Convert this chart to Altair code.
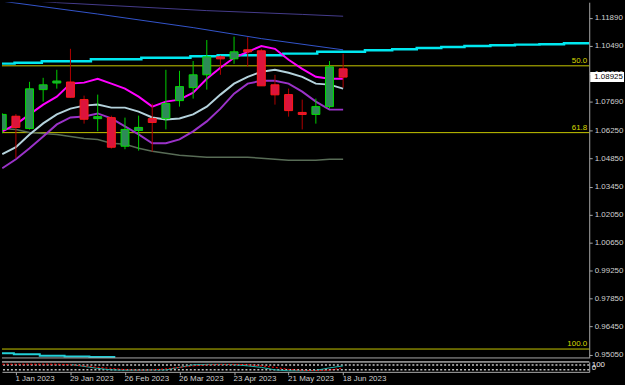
import json
import altair as alt
import pandas as pd

# ---------------- data ----------------
week = list(range(26))  # 0 = 25 Dec 2022 ... 25 = 18 Jun 2023
opens = [1.0631, 1.0697, 1.0636, 1.0830, 1.0863, 1.0868, 1.0780, 1.0685, 1.0690, 1.0547,
         1.0626, 1.0685, 1.0685, 1.0775, 1.0840, 1.0904, 1.0994, 1.0984, 1.1029, 1.1024,
         1.0854, 1.0805, 1.0716, 1.0706, 1.0745, 1.0934]
highs = [1.0712, 1.0708, 1.0869, 1.0889, 1.0929, 1.1034, 1.0800, 1.0805, 1.0700, 1.0690,
         1.0700, 1.0760, 1.0929, 1.0924, 1.0973, 1.1078, 1.1000, 1.1095, 1.1092, 1.1034,
         1.0904, 1.0835, 1.0780, 1.0785, 1.0973, 1.1009]
lows = [1.0612, 1.0487, 1.0630, 1.0770, 1.0835, 1.0790, 1.0660, 1.0622, 1.0535, 1.0532,
        1.0525, 1.0520, 1.0631, 1.0745, 1.0785, 1.0830, 1.0904, 1.0959, 1.0944, 1.0849,
        1.0755, 1.0695, 1.0631, 1.0660, 1.0735, 1.0840]
closes = [1.0706, 1.0641, 1.0834, 1.0854, 1.0873, 1.0792, 1.0682, 1.0695, 1.0542, 1.0631,
          1.0641, 1.0666, 1.0760, 1.0845, 1.0904, 1.0994, 1.0984, 1.1019, 1.1019, 1.0849,
          1.0804, 1.0725, 1.0706, 1.0745, 1.0944, 1.08925]

magenta = [1.0621, 1.0656, 1.0706, 1.0755, 1.0795, 1.0860, 1.0865, 1.0884, 1.0860, 1.0835,
           1.0795, 1.0745, 1.0770, 1.0780, 1.0815, 1.0884, 1.0939, 1.0989, 1.1019, 1.1048,
           1.1034, 1.0979, 1.0934, 1.0894, 1.0884, 1.0884]
lightblue = [1.0507, 1.0542, 1.0606, 1.0661, 1.0706, 1.0735, 1.0750, 1.0755, 1.0740, 1.0740,
             1.0720, 1.0691, 1.0681, 1.0686, 1.0706, 1.0745, 1.0805, 1.0860, 1.0894, 1.0919,
             1.0929, 1.0914, 1.0894, 1.0860, 1.0855, 1.0835]
purple = [1.0437, 1.0482, 1.0537, 1.0596, 1.0656, 1.0691, 1.0696, 1.0711, 1.0686, 1.0646,
          1.0606, 1.0562, 1.0562, 1.0581, 1.0621, 1.0671, 1.0735, 1.0810, 1.0860, 1.0874,
          1.0874, 1.0860, 1.0820, 1.0770, 1.0730, 1.0730]
dkgreen = [1.0636, 1.0631, 1.0616, 1.0611, 1.0606, 1.0596, 1.0586, 1.0581, 1.0562, 1.0557,
           1.0537, 1.0522, 1.0512, 1.0502, 1.0497, 1.0492, 1.0492, 1.0492, 1.0492, 1.0487,
           1.0482, 1.0477, 1.0477, 1.0477, 1.0482, 1.0482]

cyan_x = [-0.02, 0.9, 2.9, 6.5, 10.2, 13.8, 15.8, 20.6, 23.1, 26.6, 28.6, 30.4, 32.2,
          33.9, 35.8, 37.6, 39.4, 41.2, 43.05]
cyan_p = [1.0960, 1.0964, 1.0972, 1.0982, 1.0989, 1.0997, 1.1002, 1.1010, 1.1019, 1.1027,
          1.1032, 1.1038, 1.1043, 1.1048, 1.1052, 1.1055, 1.1057, 1.1062, 1.1062]

blue_x = [0, 7, 14, 19, 25]
blue_p = [1.1272, 1.1208, 1.1140, 1.1085, 1.1029]
slate_x = [0, 4, 15, 22, 25]
slate_p = [1.1285, 1.1265, 1.1225, 1.1206, 1.1197]

lowcyan_x = [-0.02, 0.85, 2.75, 4.57, 6.39, 8.29]
lowcyan_p = [0.95118, 0.95068, 0.94999, 0.94959, 0.94934, 0.94934]

fib_levels = [1.0949, 1.0615, 0.9533]
fib_labels = ["50.0", "61.8", "100.0"]

price_ticks = [1.1189, 1.1049, 1.0909, 1.0769, 1.0625, 1.0485, 1.0345, 1.0205,
               1.0065, 0.9925, 0.9785, 0.9645, 0.9505]
last_price = [1.08925]
last_label = ["1.08925"]

date_ticks = [1, 5, 9, 13, 17, 21, 25]
date_labels = ["1 Jan 2023", "29 Jan 2023", "26 Feb 2023", "26 Mar 2023",
               "23 Apr 2023", "21 May 2023", "18 Jun 2023"]

osc_teal_x = list(range(5, 26))
osc_teal = [120, 40, -40, -100, -110, -110, -100, -100, 0, 100, 120, 120, 110, 60, 0,
            -100, -140, -140, -120, -20, 60]
osc_red = [128, 128, 128, 128, 128, 110, 60, 0, -40, -90, -110, -100, -60, 0, 60, 100,
           120, 120, 110, 60, 0, -80, -120, -130, -110, -20]
osc_levels = [100, -100]
osc_axis_vals = [100, 0]

# ---------------- style ----------------
FONT = "Liberation Sans"
GRAY = "#a8a8a8"
LABEL = "#d0d0d0"
FIB = "#c8c800"

xs = alt.Scale(domain=[-0.0204, 43.05], nice=False, zero=False, padding=0)
ys = alt.Scale(domain=[0.94885, 1.12670], nice=False, zero=False)

y_axis_main = alt.Axis(orient="right", values=price_ticks, format=".5f", grid=False,
                       tickSize=3, tickColor=GRAY, domainColor=GRAY, labelColor=LABEL,
                       labelFont=FONT, labelFontSize=8, labelPadding=2)


def X(f):
    return alt.X(f, type="quantitative", scale=xs, axis=None, title=None)


def Y(f):
    return alt.Y(f, type="quantitative", scale=ys, axis=y_axis_main, title=None)


candles = pd.DataFrame({"week": week, "open": opens, "high": highs,
                        "low": lows, "close": closes})
lines = pd.DataFrame({"week": week, "magenta": magenta, "lightblue": lightblue,
                      "purple": purple, "dkgreen": dkgreen})
cyan_df = pd.DataFrame({"x": cyan_x, "p": cyan_p})
blue_df = pd.DataFrame({"x": blue_x, "p": blue_p})
slate_df = pd.DataFrame({"x": slate_x, "p": slate_p})
lowcyan_df = pd.DataFrame({"x": lowcyan_x, "p": lowcyan_p})
fib_df = pd.DataFrame({"level": fib_levels, "label": fib_labels})
last_df = pd.DataFrame({"p": last_price, "label": last_label})

base = alt.Chart(candles)
bull = "datum.close >= datum.open"
bear = "datum.close < datum.open"

wick_bull = base.transform_filter(bull).mark_rule(
    color="#00d000", strokeWidth=1, clip=True).encode(x=X("week"), y=Y("low"), y2="high")
wick_bear = base.transform_filter(bear).mark_rule(
    color="#b00000", strokeWidth=1, clip=True).encode(x=X("week"), y=Y("low"), y2="high")
body_bull = base.transform_filter(bull).mark_bar(
    size=8, fill="#2e8b57", stroke="#00dd00", strokeWidth=1, clip=True).encode(
    x=X("week"), y=Y("open"), y2="close")
body_bear = base.transform_filter(bear).mark_bar(
    size=8, fill="#dc143c", stroke="#ff1a1a", strokeWidth=1, clip=True).encode(
    x=X("week"), y=Y("open"), y2="close")


def ln(df, xf, yf, color, w, interp="linear"):
    return alt.Chart(df).mark_line(color=color, strokeWidth=w, clip=True,
                                   interpolate=interp).encode(x=X(xf), y=Y(yf))


l_dkgreen = ln(lines, "week", "dkgreen", "#586c56", 1.5)
l_purple = ln(lines, "week", "purple", "#9a32c8", 2)
l_light = ln(lines, "week", "lightblue", "#b4d2dc", 2)
l_mag = ln(lines, "week", "magenta", "#ff00ff", 2)
l_blue = ln(blue_df, "x", "p", "#3355cc", 1)
l_slate = ln(slate_df, "x", "p", "#463c8c", 1)
l_cyan = ln(cyan_df, "x", "p", "#00e8f0", 2.5, "step-after")
l_lowcyan = ln(lowcyan_df, "x", "p", "#22d0d8", 2, "step-after")

fib_rules = alt.Chart(fib_df).mark_rule(color=FIB, strokeWidth=1).encode(y=Y("level"))
fib_text = alt.Chart(fib_df).mark_text(
    align="right", baseline="bottom", dy=-1, color="#d8d800", font=FONT, fontSize=8
).encode(x=alt.value(589), y=Y("level"), text="label")

bottom_border = alt.Chart(last_df).mark_rule(color=GRAY, strokeWidth=1).encode(
    y=alt.value(358))

box = alt.Chart(last_df).transform_calculate(
    top="datum.p + 0.0025", bot="datum.p - 0.0025"
).mark_rect(color="#ffffff").encode(
    x=alt.value(592), x2=alt.value(626), y=Y("top"), y2="bot")
box_text = alt.Chart(last_df).mark_text(
    align="left", baseline="middle", color="#000000", font=FONT, fontSize=8
).encode(x=alt.value(596), y=Y("p"), text="label")

main = alt.layer(
    fib_rules, l_lowcyan, l_dkgreen, l_blue, l_slate, l_cyan, l_purple, l_light, l_mag,
    wick_bull, wick_bear, body_bull, body_bear, fib_text, bottom_border, box, box_text
).properties(width=591, height=358)

# ---------------- sub window ----------------
oys = alt.Scale(domain=[-180, 220], nice=False, zero=False)
label_expr = f"{json.dumps(date_labels)}[indexof({json.dumps(date_ticks)}, datum.value)]"
x_axis_sub = alt.Axis(values=date_ticks, labelExpr=label_expr, grid=False, tickSize=3,
                      tickColor=GRAY, domainColor=GRAY, labelColor=LABEL, labelFont=FONT,
                      labelFontSize=8, labelPadding=0, labelAlign="left", labelFlush=False,
                      labelOverlap=False, labelOffset=-1)
y_axis_sub = alt.Axis(orient="right", values=osc_axis_vals, grid=False, tickSize=0,
                      domainColor=GRAY, labelColor="#e8e8e8", labelFont=FONT,
                      labelFontSize=8, labelPadding=2, labelOverlap=False)


def SX(f):
    return alt.X(f, type="quantitative", scale=xs, axis=x_axis_sub, title=None)


def SY(f):
    return alt.Y(f, type="quantitative", scale=oys, axis=y_axis_sub, title=None)


osc_lv = pd.DataFrame({"v": osc_levels})
teal_df = pd.DataFrame({"week": osc_teal_x, "v": osc_teal})
red_df = pd.DataFrame({"week": week, "v": osc_red})

s_levels = alt.Chart(osc_lv).mark_rule(color="#c0c0c0", strokeDash=[2, 2],
                                       strokeWidth=1.5).encode(y=SY("v"))
s_top = alt.Chart(osc_lv).mark_rule(color=GRAY, strokeWidth=1).encode(y=alt.value(0))
s_teal = alt.Chart(teal_df).mark_line(color="#20b2aa", strokeWidth=1, clip=True).encode(
    x=SX("week"), y=SY("v"))
s_red = alt.Chart(red_df).mark_line(color="#ff0000", strokeWidth=1, strokeDash=[2, 2],
                                    clip=True).encode(x=SX("week"), y=SY("v"))

sub = alt.layer(s_levels, s_teal, s_red, s_top).properties(width=591, height=10)

chart = alt.vconcat(main, sub, spacing=0).properties(
    padding=0, background="#000000"
).configure_view(stroke="transparent").resolve_scale(y="independent")

chart.save("out.html", embed_options={"renderer": "svg", "actions": False})
